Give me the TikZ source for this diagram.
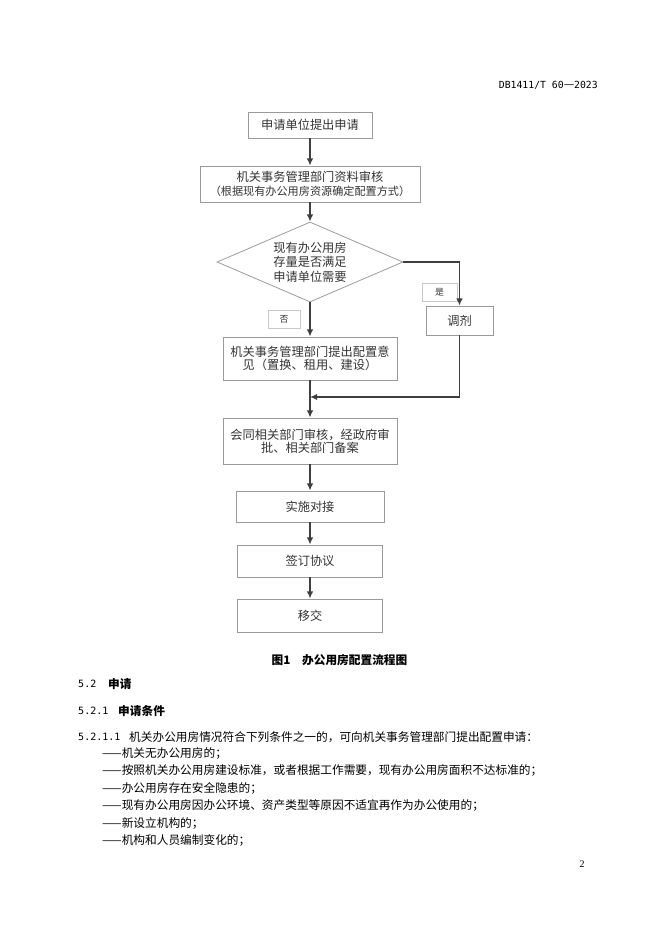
\documentclass[tikz,border=0pt]{standalone}
\usepackage{fontspec}
\usepackage{tikz}
\usetikzlibrary{shapes.geometric,arrows.meta}
\setmainfont{Noto Sans CJK SC}
\newfontfamily\monofont{DejaVu Sans Mono}
\newfontfamily\serifnum{Liberation Serif}
\newlength\unitpx
\setlength\unitpx{0.8988pt}
\definecolor{boxline}{HTML}{9A9A9A}
\definecolor{flowline}{HTML}{3F3F3F}
\definecolor{flowtext}{HTML}{333333}
\definecolor{tagline}{HTML}{C8C8C8}
\tikzset{
	procbox/.style={draw=boxline, line width=0.7pt, text=flowtext, align=center, inner sep=0pt, font=\fontsize{11}{12}\selectfont},
	decision/.style={diamond, aspect=2.3, draw=boxline, line width=0.7pt, text=flowtext, align=center, inner sep=0pt, font=\fontsize{11}{13}\selectfont},
	tagbox/.style={draw=tagline, line width=0.6pt, text=flowtext, inner sep=0pt, font=\fontsize{8}{9}\selectfont},
	flowarrow/.style={draw=flowline, line width=1.3pt, -{Latex[length=6.5pt,width=6pt]}},
	bodytext/.style={anchor=west, inner sep=0pt, font=\fontsize{10.5}{12}\selectfont},
	numtext/.style={anchor=west, inner sep=0pt, font=\monofont\fontsize{9}{10}\selectfont},
}

\begin{document}
\begin{tikzpicture}[x=\unitpx, y=-\unitpx]
			\useasboundingbox (0,0) rectangle (662,936);
			\node[anchor=east, inner sep=0pt] (docno) at (598,85) {{\monofont\fontsize{8.8}{10}\selectfont DB1411/T 60}{\fontsize{10.5}{12}\selectfont —}{\monofont\fontsize{8.8}{10}\selectfont 2023}};

			\node[procbox, minimum width=124\unitpx, minimum height=26\unitpx] (apply) at (310,125) {申请单位提出申请};
			\node[procbox, minimum width=220\unitpx, minimum height=36\unitpx] (review) at (310,184) {机关事务管理部门资料审核\\{\fontsize{10}{12}\selectfont（根据现有办公用房资源确定配置方式）}};
			\node[decision, minimum width=186\unitpx, minimum height=80\unitpx] (enough) at (310,262) {现有办公用房\\存量是否满足\\申请单位需要};
			\node[procbox, minimum width=67\unitpx, minimum height=29\unitpx] (adjust) at (459.5,320.5) {调剂};
			\node[tagbox, minimum width=35\unitpx, minimum height=18\unitpx] (yes) at (439.5,292) {是};
			\node[tagbox, minimum width=32\unitpx, minimum height=18\unitpx] (no) at (284,319) {否};
			\node[procbox, minimum width=174\unitpx, minimum height=43\unitpx] (opinion) at (310,358.5) {机关事务管理部门提出配置意\\见（置换、租用、建设）};
			\coordinate (join) at (310,397);
			\node[procbox, minimum width=174\unitpx, minimum height=46\unitpx] (approve) at (310,441) {会同相关部门审核，经政府审\\批、相关部门备案};
			\node[procbox, minimum width=148\unitpx, minimum height=31\unitpx] (dock) at (310,506.5) {实施对接};
			\node[procbox, minimum width=145\unitpx, minimum height=32\unitpx] (sign) at (310,561) {签订协议};
			\node[procbox, minimum width=145\unitpx, minimum height=33\unitpx] (handover) at (310,615.5) {移交};

			\draw[flowarrow] (apply) -- (review);
			\draw[flowarrow] (review) -- (enough);
			\draw[flowarrow] (enough.east) -| (adjust.north);
			\draw[flowarrow] (enough) -- (opinion);
			\draw[flowarrow] (adjust.south) |- (join);
			\draw[flowarrow] (opinion) -- (approve);
			\draw[flowarrow] (approve) -- (dock);
			\draw[flowarrow] (dock) -- (sign);
			\draw[flowarrow] (sign) -- (handover);

			\node[inner sep=0pt, font=\bfseries\fontsize{10.5}{12}\selectfont] (caption) at (339.5,660) {图1\hspace{1em}办公用房配置流程图};

			\node[numtext] (sec) at (78,684) {5.2};
			\node[bodytext, font=\bfseries\fontsize{10.5}{12}\selectfont] (sectitle) at (108,684) {申请};
			\node[numtext] (subsec) at (78,711) {5.2.1};
			\node[bodytext, font=\bfseries\fontsize{10.5}{12}\selectfont] (subsectitle) at (118,711) {申请条件};
			\node[numtext] (clause) at (78,737) {5.2.1.1};
			\node[bodytext] (clausetext) at (129,737) {机关办公用房情况符合下列条件之一的，可向机关事务管理部门提出配置申请：};
			\foreach \txt [count=\i from 0] in {机关无办公用房的；, 按照机关办公用房建设标准，或者根据工作需要，现有办公用房面积不达标准的；, 办公用房存在安全隐患的；, 现有办公用房因办公环境、资产类型等原因不适宜再作为办公使用的；, 新设立机构的；, 机构和人员编制变化的；}
				\node[bodytext] (item\i) at (102,753+17.5*\i) {——\txt};

			\node[inner sep=0pt, font=\serifnum\fontsize{9}{10}\selectfont] (pageno) at (582,864) {2};
		\end{tikzpicture}
\end{document}
